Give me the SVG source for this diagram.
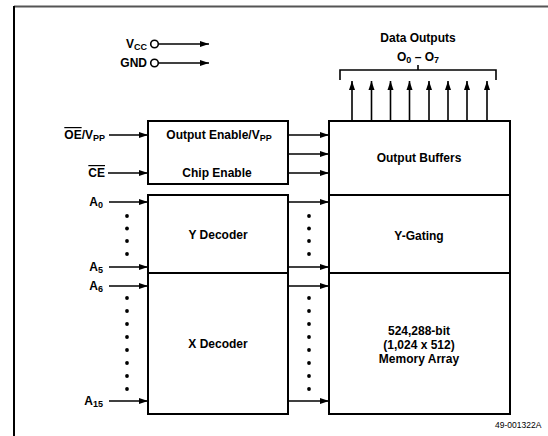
<svg xmlns="http://www.w3.org/2000/svg" width="548" height="436" viewBox="0 0 548 436">
<defs>
<marker id="ah" markerUnits="userSpaceOnUse" markerWidth="10" markerHeight="8" refX="9" refY="4" orient="auto">
<path d="M0,1 L9,4 L0,7 Z" fill="#000"/>
</marker>
<style>
.t{font-family:"Liberation Sans",Arial,sans-serif;font-weight:bold;font-size:12px;fill:#000}
.s{font-size:9px}
.c{text-anchor:middle}
.r{text-anchor:end}
.box{fill:#fff;stroke:#000;stroke-width:2}
.w{stroke:#000;stroke-width:1.6;fill:none}
.a{stroke:#000;stroke-width:1.6;fill:none;marker-end:url(#ah)}
.d{fill:#000}
</style>
</defs>
<rect width="548" height="436" fill="#fff"/>
<g id="frame">
<line x1="14" y1="6.5" x2="548" y2="6.5" stroke="#555" stroke-width="2"/>
<line x1="14" y1="6" x2="14" y2="436" stroke="#000" stroke-width="2"/>
</g>
<g id="power">
<text class="t r" x="147" y="48">V<tspan class="s" dy="2">CC</tspan></text>
<text class="t r" x="147" y="67">GND</text>
<circle cx="154.5" cy="44" r="3.8" fill="#fff" stroke="#000" stroke-width="1.6"/>
<circle cx="154.5" cy="63" r="3.8" fill="#fff" stroke="#000" stroke-width="1.6"/>
</g>
<g id="node-control">
<rect class="box" x="148" y="121" width="140" height="63"/>
<text class="t c" x="219" y="139">Output Enable/V<tspan class="s" dy="2">PP</tspan></text>
<text class="t c" x="217" y="177">Chip Enable</text>
</g>
<g id="node-ydecoder">
<rect class="box" x="148" y="195" width="140" height="78"/>
<text class="t c" x="218" y="239">Y Decoder</text>
</g>
<g id="node-xdecoder">
<rect class="box" x="148" y="273" width="140" height="141"/>
<text class="t c" x="218" y="348">X Decoder</text>
</g>
<g id="node-outbuf">
<rect class="box" x="329" y="121" width="181" height="74"/>
<text class="t c" x="419" y="162">Output Buffers</text>
</g>
<g id="node-ygating">
<rect class="box" x="329" y="195" width="181" height="78"/>
<text class="t c" x="419" y="240">Y-Gating</text>
</g>
<g id="node-array">
<rect class="box" x="329" y="273" width="181" height="141"/>
<text class="t c" x="419" y="335">524,288-bit</text>
<text class="t c" x="419" y="349">(1,024 x 512)</text>
<text class="t c" x="419" y="363">Memory Array</text>
</g>
<g id="labels">
<text class="t r" x="105" y="139"><tspan text-decoration="overline">OE</tspan>/V<tspan class="s" dy="2">PP</tspan></text>
<text class="t r" x="105" y="177"><tspan text-decoration="overline">CE</tspan></text>
<text class="t r" x="103" y="206">A<tspan class="s" dy="2">0</tspan></text>
<text class="t r" x="103" y="271">A<tspan class="s" dy="2">5</tspan></text>
<text class="t r" x="103" y="290">A<tspan class="s" dy="2">6</tspan></text>
<text class="t r" x="103" y="405">A<tspan class="s" dy="2">15</tspan></text>
<text class="t c" x="418" y="42">Data Outputs</text>
<text class="t c" x="418" y="61">O<tspan class="s" dy="2">0</tspan><tspan dy="-2"> – O</tspan><tspan class="s" dy="2">7</tspan></text>
<text x="495" y="428" font-family="'Liberation Sans',Arial,sans-serif" font-size="8.5" fill="#000">49-001322A</text>
</g>
<g id="connectors">
<line class="a" x1="158.5" y1="44" x2="209" y2="44"/>
<line class="a" x1="158.5" y1="63" x2="209" y2="63"/>
<line class="a" x1="109" y1="135" x2="148" y2="135"/>
<line class="a" x1="108" y1="173" x2="148" y2="173"/>
<line class="a" x1="109" y1="202" x2="148" y2="202"/>
<line class="a" x1="109" y1="267" x2="148" y2="267"/>
<line class="a" x1="109" y1="286" x2="148" y2="286"/>
<line class="a" x1="109" y1="401" x2="148" y2="401"/>
<line class="a" x1="289" y1="135" x2="329" y2="135"/>
<line class="a" x1="289" y1="154" x2="329" y2="154"/>
<line class="a" x1="289" y1="173" x2="329" y2="173"/>
<line class="a" x1="289" y1="202" x2="329" y2="202"/>
<line class="a" x1="289" y1="267" x2="329" y2="267"/>
<line class="a" x1="289" y1="286" x2="329" y2="286"/>
<line class="a" x1="289" y1="401" x2="329" y2="401"/>
<line class="a" x1="352" y1="121" x2="352" y2="81"/>
<line class="a" x1="371.5" y1="121" x2="371.5" y2="81"/>
<line class="a" x1="390.5" y1="121" x2="390.5" y2="81"/>
<line class="a" x1="409.5" y1="121" x2="409.5" y2="81"/>
<line class="a" x1="429" y1="121" x2="429" y2="81"/>
<line class="a" x1="448" y1="121" x2="448" y2="81"/>
<line class="a" x1="467" y1="121" x2="467" y2="81"/>
<line class="a" x1="487" y1="121" x2="487" y2="81"/>
<path class="w" d="M340,80 V70 H496 V80 M418,70 V65" stroke-width="2"/>
<g class="d">
<circle cx="127" cy="216" r="1.9"/><circle cx="127" cy="228.5" r="1.9"/><circle cx="127" cy="241" r="1.9"/><circle cx="127" cy="254" r="1.9"/>
<circle cx="127" cy="298" r="1.9"/><circle cx="127" cy="311" r="1.9"/><circle cx="127" cy="324" r="1.9"/><circle cx="127" cy="337" r="1.9"/>
<circle cx="127" cy="350" r="1.9"/><circle cx="127" cy="363" r="1.9"/><circle cx="127" cy="376" r="1.9"/><circle cx="127" cy="389" r="1.9"/>
<circle cx="309" cy="216" r="1.9"/><circle cx="309" cy="228.5" r="1.9"/><circle cx="309" cy="241" r="1.9"/><circle cx="309" cy="254" r="1.9"/>
<circle cx="309" cy="298" r="1.9"/><circle cx="309" cy="311" r="1.9"/><circle cx="309" cy="324" r="1.9"/><circle cx="309" cy="337" r="1.9"/>
<circle cx="309" cy="350" r="1.9"/><circle cx="309" cy="363" r="1.9"/><circle cx="309" cy="376" r="1.9"/><circle cx="309" cy="389" r="1.9"/>
</g>
</g>
</svg>
